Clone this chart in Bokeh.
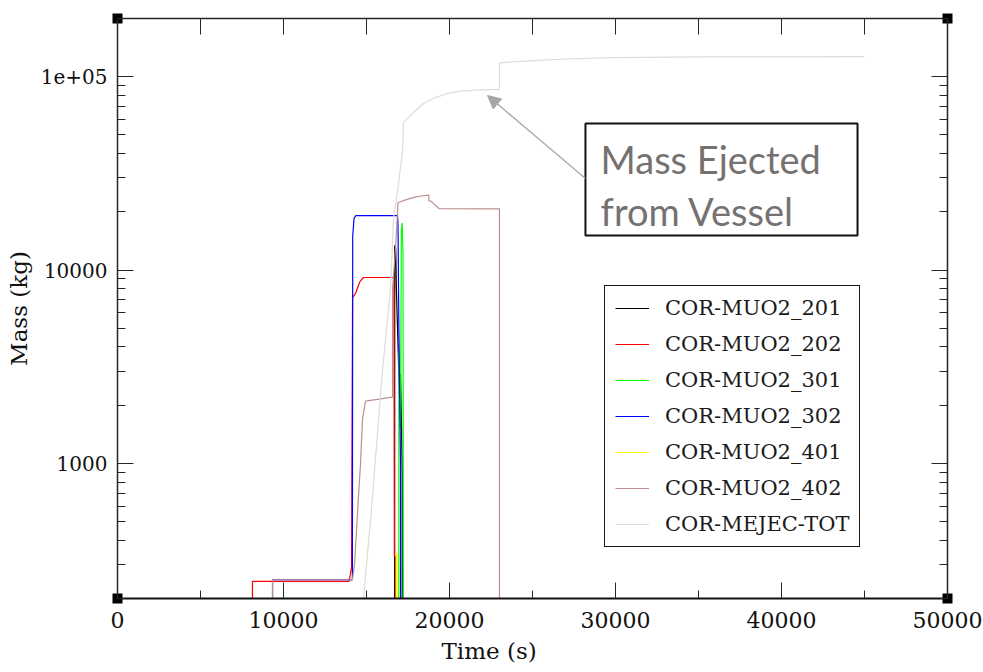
from bokeh.plotting import figure
from bokeh.models import (Range1d, FixedTicker, LinearAxis, LogAxis, Legend,
                          LegendItem, Label, BoxAnnotation, Arrow, NormalHead,
                          CustomJSTickFormatter, Title)
from bokeh.embed import file_html
from bokeh.resources import INLINE

# Zero mass cannot sit on a log axis; this value lies below the visible range.
FLOOR = 1.0

# Time (s) / mass (kg) histories of the molten UO2 in each core cell
t_201 = [16690, 16700, 16760, 16800, 16950, 17000, 17050, 17100, 17150, 17160]
m_201 = [FLOOR, 13400, 13000, 8000, 2900, 2000, 2900, 1800, 900, FLOOR]

t_202 = [8130, 8130, 13950, 14100, 14160, 14350, 14600, 14820, 16650, 16680, 16750, 16760]
m_202 = [FLOOR, 245, 245, 290, 7200, 7600, 8700, 9150, 9150, 330, 330, FLOOR]

t_301 = [16940, 16950, 17000, 17050, 17100, 17150, 17200, 17250]
m_301 = [FLOOR, 3800, 2500, 1500, 16000, 17500, 12000, FLOOR]

t_302 = [9340, 9340, 14150, 14170, 14250, 14350, 16870, 16900, 16950, 17050, 17060]
m_302 = [FLOOR, 250, 250, 15000, 18500, 19100, 19100, 17000, 5000, 1000, FLOOR]

t_401 = [16780, 16790, 16830, 16840]
m_401 = [FLOOR, 340, 340, FLOOR]

t_402 = [9340, 9340, 14150, 14280, 14460, 14640, 14760, 14940, 16570, 16570, 16750,
         16900, 17300, 17800, 18300, 18750, 18760, 18860, 19360, 23010, 23010]
m_402 = [FLOOR, 250, 250, 300, 560, 1000, 1700, 2100, 2200, 8000, 13000,
         22300, 23000, 23700, 24150, 24400, 22800, 22800, 20800, 20700, FLOOR]

# Total core mass ejected from the vessel
t_ejec = [14700, 14820, 15300, 15950, 16450, 16630, 16870, 17170, 17230, 17830, 18430,
          19160, 19880, 20660, 21870, 23000, 23010, 25000, 27000, 30000, 35000, 45000]
m_ejec = [FLOOR, 200, 580, 2930, 8130, 18600, 25600, 41100, 57900, 65300, 72700,
          78000, 81900, 84300, 85500, 85900, 118000, 121000, 123500, 125500, 126500, 127000]

series = [
    ("COR-MUO2_201", t_201, m_201, "#000000"),
    ("COR-MUO2_202", t_202, m_202, "#ff0000"),
    ("COR-MUO2_301", t_301, m_301, "#00ff00"),
    ("COR-MUO2_302", t_302, m_302, "#0000ff"),
    ("COR-MUO2_401", t_401, m_401, "#ffff00"),
    ("COR-MUO2_402", t_402, m_402, "#bc8f8f"),
    ("COR-MEJEC-TOT", t_ejec, m_ejec, "#dcdcdc"),
]

x_major = [0, 10000, 20000, 30000, 40000, 50000]
x_minor = [5000, 15000, 25000, 35000, 45000]
y_major = [1000, 10000, 100000]
y_minor = [200, 300, 400, 500, 600, 700, 800, 900,
           2000, 3000, 4000, 5000, 6000, 7000, 8000, 9000,
           20000, 30000, 40000, 50000, 60000, 70000, 80000, 90000, 200000]
y_labels = {1000.0: "1000", 10000.0: "10000", 100000.0: "1e+05"}

X_START, X_END = 0, 50000
Y_START, Y_END = 200, 2e5
CORNERS_X = [X_START, X_END]

SERIF = "DejaVu Serif"
AX_COLOR = "#262626"
TEXT_COLOR = "#111111"

p = figure(frame_width=830, frame_height=580,
           x_range=Range1d(X_START, X_END), y_range=Range1d(Y_START, Y_END),
           y_axis_type="log", output_backend="svg", toolbar_location=None,
           min_border_left=117, min_border_right=36,
           min_border_top=18, min_border_bottom=74)
p.outline_line_color = None
p.xgrid.visible = False
p.ygrid.visible = False
p.background_fill_color = "white"
p.border_fill_color = "white"

def blank_labels(ax):
    ax.formatter = CustomJSTickFormatter(code="return ''")
    ax.major_label_text_font_size = "1px"
    ax.major_label_standoff = 0

def inward_ticks(ax, major=16, minor=8):
    ax.major_tick_in = major
    ax.major_tick_out = 0
    ax.minor_tick_in = minor
    ax.minor_tick_out = 0
    ax.major_tick_line_color = AX_COLOR
    ax.minor_tick_line_color = AX_COLOR
    ax.axis_line_color = AX_COLOR
    ax.axis_line_width = 1.5

def corner_squares(ax):
    # the frame-corner squares are drawn as short, very wide minor ticks
    ax.minor_tick_in = 5
    ax.minor_tick_out = 5
    ax.minor_tick_line_width = 10
    ax.minor_tick_line_color = "black"
    ax.minor_tick_line_cap = "butt"

# bottom axis: labelled majors plus the two lower corner squares
xb = p.xaxis[0]
xb.ticker = FixedTicker(ticks=x_major, minor_ticks=CORNERS_X)
inward_ticks(xb)
corner_squares(xb)
xb.axis_line_width = 2
xb.axis_line_color = "#111111"
xb.major_label_text_font = SERIF
xb.major_label_text_font_size = "22px"
xb.major_label_text_color = TEXT_COLOR
xb.major_label_text_line_height = 0.9
xb.major_label_standoff = 8

# short bottom ticks between the labelled ones (they point into the frame)
xm = LinearAxis(fixed_location=Y_START, ticker=FixedTicker(ticks=x_minor),
                axis_line_color=None, minor_tick_line_color=None,
                major_tick_in=8, major_tick_out=0, major_tick_line_color=AX_COLOR)
blank_labels(xm)
p.add_layout(xm, "below")

yl = p.yaxis[0]
yl.ticker = FixedTicker(ticks=y_major, minor_ticks=y_minor)
yl.major_label_overrides = y_labels
inward_ticks(yl)
yl.major_label_text_font = SERIF
yl.major_label_text_font_size = "20px"
yl.major_label_text_color = TEXT_COLOR
yl.major_label_standoff = 10
yl.axis_label = "Mass (kg)"
yl.axis_label_text_font = SERIF
yl.axis_label_text_font_size = "23px"
yl.axis_label_text_font_style = "normal"
yl.axis_label_text_color = TEXT_COLOR
yl.axis_label_standoff = 6

# top axis: ticks every 5000 plus the two upper corner squares
xt = LinearAxis(ticker=FixedTicker(ticks=x_major + x_minor, minor_ticks=CORNERS_X))
inward_ticks(xt)
corner_squares(xt)
blank_labels(xt)
p.add_layout(xt, "above")

yr = LogAxis(ticker=FixedTicker(ticks=y_major, minor_ticks=y_minor))
inward_ticks(yr)
blank_labels(yr)
p.add_layout(yr, "right")

# x-axis title, set a little left of the frame centre
p.add_layout(Title(text="Time (s)", align="left", offset=324, vertical_align="bottom",
                   text_font=SERIF, text_font_size="23px", text_font_style="normal",
                   text_line_height=0.9, text_color=TEXT_COLOR, standoff=10), "below")

items = []
for name, t, m, color in series:
    r = p.line(t, m, line_color=color, line_width=1.2)
    items.append(LegendItem(label=name, renderers=[r]))

legend = Legend(items=items, location=(487, 51), orientation="vertical",
                border_line_color="#1a1a1a", border_line_width=1.5, border_line_alpha=1,
                background_fill_color="white", background_fill_alpha=1,
                label_text_font=SERIF, label_text_font_size="21px",
                label_text_color="#1a1a1a",
                glyph_width=34, glyph_height=20, label_height=20,
                label_standoff=16, padding=10, spacing=12, margin=0)
p.add_layout(legend, "center")

# Call-out box pointing at the ejected-mass curve
p.add_layout(BoxAnnotation(left=28190, right=44580, bottom=15080, top=57300,
                           fill_color="white", fill_alpha=1,
                           line_color="#111111", line_alpha=1, line_width=2))
for txt, base in [("Mass Ejected", 37730), ("from Vessel", 20310)]:
    p.add_layout(Label(x=29100, y=base, text=txt, text_font="Lato",
                       text_font_size="38px", text_color="#767171",
                       text_baseline="alphabetic"))
p.add_layout(Arrow(x_start=28190, y_start=29730, x_end=22290, y_end=79900,
                   line_color="#a6a6a6", line_width=1.2,
                   end=NormalHead(size=13, fill_color="#a6a6a6", line_color="#a6a6a6")))

open("out.html", "w").write(file_html(p, INLINE))
